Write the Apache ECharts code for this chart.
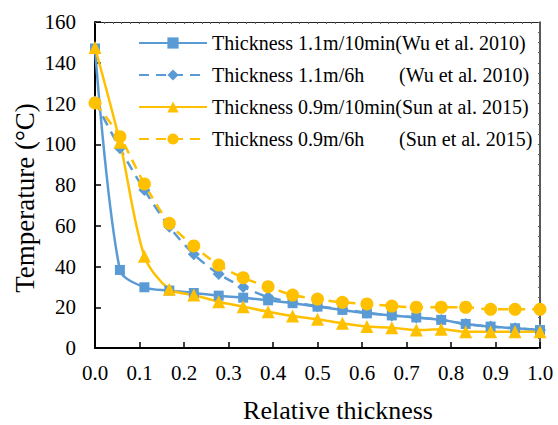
<!DOCTYPE html>
<html>
<head>
<meta charset="utf-8">
<script src="https://cdn.jsdelivr.net/npm/echarts@6/dist/echarts.min.js"></script>
<style>
html,body{margin:0;padding:0;background:#fff;}
#c{width:558px;height:425px;}
</style>
</head>
<body>
<div id="c"></div>
<script>
// Relative thickness positions (x values)
var xs = [0, 0.056, 0.111, 0.167, 0.222, 0.278, 0.333, 0.389, 0.444, 0.5, 0.556, 0.611, 0.667, 0.722, 0.778, 0.833, 0.889, 0.944, 1.0];
// Temperature (°C)
var wu10min = [147, 38.3, 29.8, 28.2, 27, 25.7, 24.7, 23.4, 22, 20.3, 18.7, 17, 16, 15, 13.8, 11.8, 10.5, 9.7, 8.8];
var wu6h    = [121, 98, 77.5, 59.5, 46, 36.3, 30, 25, 22.5, 20.5, 19, 17.3, 16, 15, 13.8, 11.8, 10.5, 9.7, 8.8];
var sun10min= [147.5, 101, 45, 28.8, 26, 22.7, 20.3, 17.8, 15.7, 14.1, 12.1, 10.5, 10, 8.8, 9.2, 8, 8, 8, 8];
var sun6h   = [120.3, 103.7, 80.5, 61.2, 50.1, 40.7, 34.5, 30.1, 26, 24, 22.4, 21.6, 20.6, 20, 20, 20, 19, 19, 19];
var seriesNames = [
  'Thickness 1.1m/10min(Wu et al. 2010)',
  'Thickness 1.1m/6h (Wu et al. 2010)',
  'Thickness 0.9m/10min(Sun at al. 2015)',
  'Thickness 0.9m/6h (Sun et al. 2015)'
];
var xTicks = [0.0, 0.1, 0.2, 0.3, 0.4, 0.5, 0.6, 0.7, 0.8, 0.9, 1.0];
var yTicks = [0, 20, 40, 60, 80, 100, 120, 140, 160];

function pairs(v){ return xs.map(function(x,i){ return [x, v[i]]; }); }

var BLUE = '#5B9BD5', GOLD = '#FFC000';
var FONT = 'Liberation Serif';

var chart = echarts.init(document.getElementById('c'), null, {renderer:'svg'});
var option = {
  animation: false,
  backgroundColor: '#fff',
  textStyle: {fontFamily: FONT},
  grid: {left: 95, right: 18, top: 22, bottom: 77, show: false},
  legend: {
    orient: 'vertical', left: 133, top: 27,
    itemWidth: 68, itemHeight: 14, itemGap: 10,
    textStyle: {fontFamily: FONT, fontSize: 20, color: '#000', lineHeight: 22,
      rich: {a: {fontFamily: FONT, fontSize: 20, color:'#000', width: 187, lineHeight: 22}, b: {fontFamily: FONT, fontSize: 20, color:'#000', lineHeight: 22}}},
    formatter: function(name){
      var m = name.match(/^(Thickness \S+) (\(.*\))$/);
      if (m) return '{a|' + m[1] + '}{b|' + m[2] + '}';
      return '{b|' + name + '}';
    },
    data: seriesNames
  },
  xAxis: [{
    type: 'value', min: 0, max: 1, interval: 0.1, position: 'bottom',
    axisLine: {show: true, onZero: false, lineStyle: {color: '#000', width: 2}},
    axisTick: {show: true, inside: true, length: 6, lineStyle: {color: '#000', width: 1.5}},
    axisLabel: {fontFamily: FONT, fontSize: 21, color: '#000', margin: 14,
      formatter: function(v){ return v.toFixed(1); }},
    splitLine: {show: false}
  }, {
    type: 'value', min: 0, max: 1, interval: 0.1, position: 'top',
    axisLine: {show: true, onZero: false, lineStyle: {color: '#222', width: 1.2}},
    axisTick: {show: true, inside: true, length: 2, lineStyle: {color: '#555'}},
    minorTick: {show: true, splitNumber: 5, length: 2, lineStyle: {color: '#666'}},
    axisLabel: {show: false}, splitLine: {show: false}
  }],
  yAxis: [{
    type: 'value', min: 0, max: 160, interval: 20, position: 'left',
    axisLine: {show: true, onZero: false, lineStyle: {color: '#000', width: 2}},
    axisTick: {show: true, inside: true, length: 6, lineStyle: {color: '#000', width: 1.5}},
    axisLabel: {fontFamily: FONT, fontSize: 21, color: '#000', margin: 19},
    splitLine: {show: false}
  }, {
    type: 'value', min: 0, max: 160, interval: 20, position: 'right',
    axisLine: {show: true, onZero: false, lineStyle: {color: '#222', width: 1.5}},
    axisTick: {show: true, inside: true, length: 2, lineStyle: {color: '#555'}},
    minorTick: {show: true, splitNumber: 4, length: 2, lineStyle: {color: '#666'}},
    axisLabel: {show: false}, splitLine: {show: false}
  }],
  graphic: [{
    type: 'text', x: 338, y: 410,
    style: {text: 'Relative thickness', fontFamily: FONT, fontSize: 26, fill: '#000', align: 'center', verticalAlign: 'middle'}
  }, {
    type: 'text', x: 25, y: 198, rotation: Math.PI/2,
    style: {text: 'Temperature (°C)', fontFamily: FONT, fontSize: 27, fill: '#000', align: 'center', verticalAlign: 'middle'}
  }],
  series: [{
    name: seriesNames[0], type: 'line', data: pairs(wu10min), smooth: 0.3,
    symbol: 'rect', symbolSize: 10, showAllSymbol: true,
    lineStyle: {color: BLUE, width: 2.5}, itemStyle: {color: BLUE}
  }, {
    name: seriesNames[1], type: 'line', data: pairs(wu6h), smooth: 0.3,
    symbol: 'diamond', symbolSize: 12, showAllSymbol: true,
    lineStyle: {color: BLUE, width: 2.5, type: [10, 7]}, itemStyle: {color: BLUE}
  }, {
    name: seriesNames[2], type: 'line', data: pairs(sun10min), smooth: 0.3,
    symbol: 'triangle', symbolSize: 13, showAllSymbol: true,
    lineStyle: {color: GOLD, width: 2.5}, itemStyle: {color: GOLD}
  }, {
    name: seriesNames[3], type: 'line', data: pairs(sun6h), smooth: 0.3,
    symbol: 'circle', symbolSize: 13, showAllSymbol: true,
    lineStyle: {color: GOLD, width: 2.5, type: [10, 7]}, itemStyle: {color: GOLD}
  }]
};
chart.setOption(option);
</script>
</body>
</html>
